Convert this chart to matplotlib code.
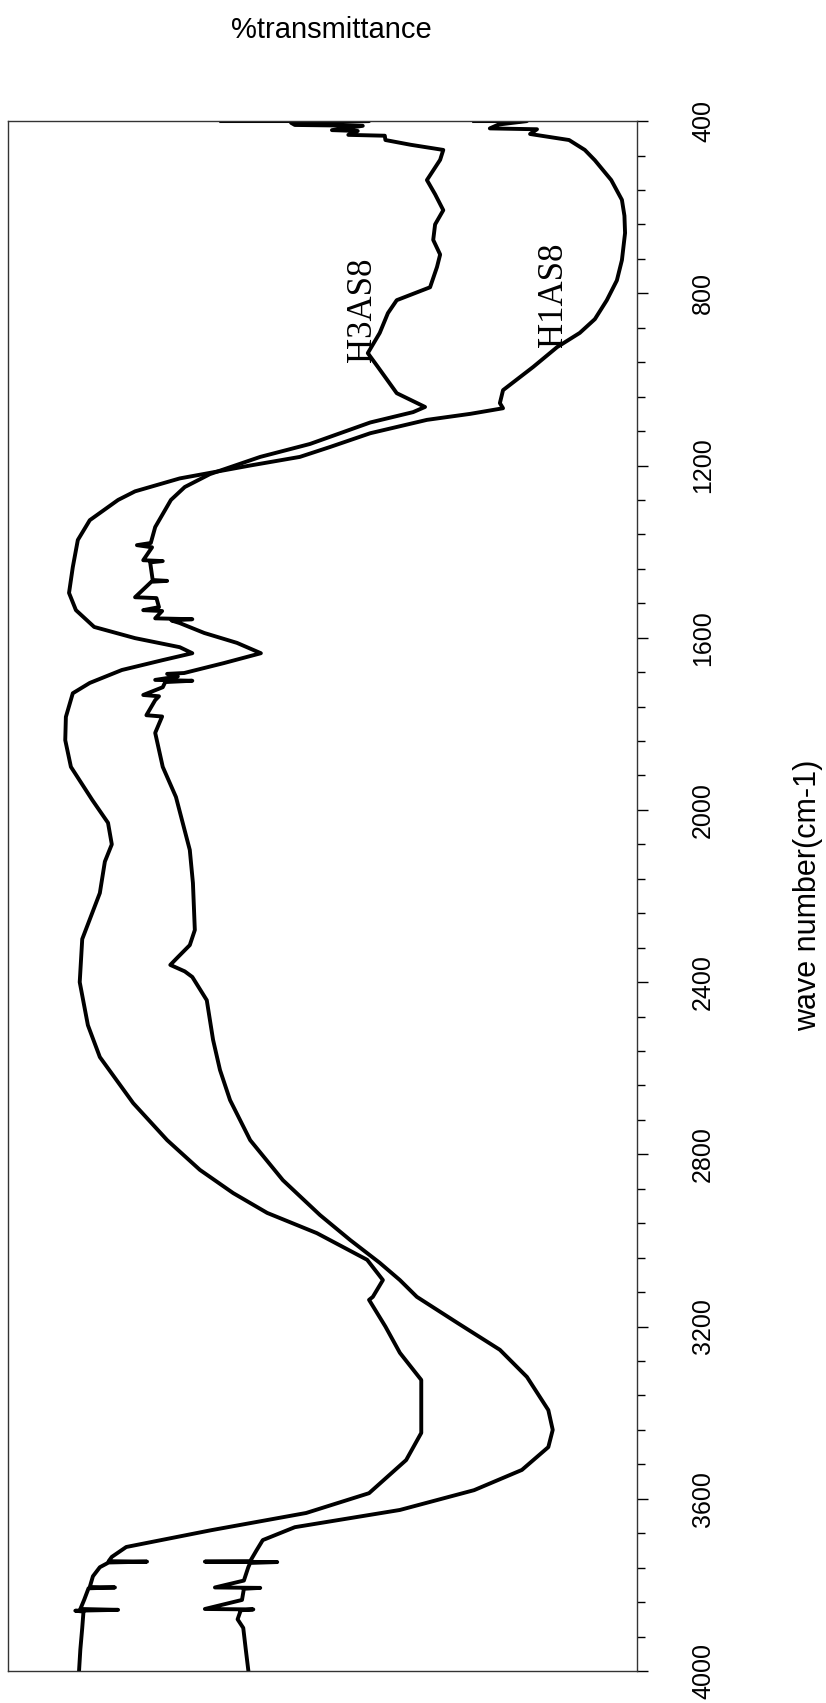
import matplotlib.pyplot as plt
from matplotlib.ticker import MultipleLocator

# wave numbers (cm-1) and %transmittance
h1_wn = [400, 400, 408, 417, 419, 430, 444, 467, 491, 537, 583, 620, 660, 723, 770,
         816, 860, 892, 925, 971, 1025, 1055, 1067, 1080, 1094, 1125, 1157, 1180, 1200,
         1230, 1260, 1280, 1327, 1373, 1436, 1496, 1536, 1575, 1601, 1622, 1636, 1652,
         1675, 1705, 1729, 1784, 1838, 1900, 1977, 2030, 2080, 2120, 2193, 2300, 2400,
         2500, 2574, 2681, 2767, 2836, 2890, 2936, 2983, 3045, 3092, 3131, 3138, 3200,
         3261, 3324, 3447, 3510, 3587, 3633, 3673, 3712, 3735, 3745, 3746, 3748, 3759,
         3780, 3805, 3806, 3808, 3835, 3856, 3858, 3860, 3862, 3900, 3950, 3998]
h1_t = [74.1, 82.5, 78.0, 76.6, 84.1, 83.0, 89.2, 91.7, 93.3, 95.9, 97.6, 98.0, 98.1, 97.6, 96.8,
        95.2, 93.3, 90.9, 87.3, 83.5, 78.7, 78.2, 78.7, 73.5, 66.6, 57.6, 51.2, 46.4, 38.5,
        27.3, 20.2, 17.5, 13.0, 11.1, 10.3, 9.7, 10.8, 13.7, 20.2, 27.3, 29.3, 24.6,
        18.1, 13.0, 10.3, 9.2, 9.1, 10.0, 13.4, 15.9, 16.5, 15.4, 14.6, 11.8, 11.4,
        12.7, 14.6, 19.9, 25.3, 30.5, 35.8, 41.2, 49.1, 57.1, 59.6, 58.0, 57.4, 60.0,
        62.3, 65.7, 65.7, 63.3, 57.4, 47.4, 32.3, 18.8, 16.5, 16.0, 22.1, 16.0, 14.6,
        13.5, 13.0, 17.0, 12.8, 12.1, 11.5, 17.5, 10.7, 12.0, 11.8, 11.5, 11.3]

h3_wn = [400, 400, 404, 409, 411, 421, 423, 432, 434, 444, 455, 467, 490, 537, 570,
         607, 640, 676, 710, 739, 786, 816, 846, 892, 939, 971, 1032, 1064, 1076, 1100,
         1125, 1150, 1180, 1220, 1250, 1280, 1343, 1380, 1385, 1390, 1420, 1422, 1425,
         1466, 1468, 1470, 1506, 1508, 1529, 1536, 1538, 1555, 1557, 1560, 1566, 1589,
         1612, 1636, 1659, 1682, 1684, 1690, 1698, 1700, 1703, 1715, 1733, 1736, 1745,
         1780, 1783, 1821, 1900, 1970, 2093, 2170, 2279, 2314, 2342, 2360, 2375, 2388,
         2442, 2534, 2604, 2674, 2767, 2860, 2941, 2999, 3052, 3092, 3131, 3192, 3254,
         3317, 3394, 3440, 3480, 3533, 3580, 3626, 3666, 3696, 3720, 3745, 3746, 3747,
         3749, 3759, 3790, 3806, 3807, 3809, 3835, 3856, 3857, 3859, 3880, 3900, 3950, 3998]
h3_t = [33.9, 57.4, 45.0, 45.6, 56.4, 51.5, 55.6, 54.1, 59.9, 60.0, 64.0, 69.2, 68.7, 66.6, 67.9,
        69.2, 67.9, 67.6, 68.7, 68.2, 67.1, 61.8, 60.4, 59.1, 57.2, 58.8, 61.8, 66.3, 64.4, 57.6,
        52.8, 48.0, 40.1, 32.1, 28.1, 25.9, 23.4, 22.7, 20.5, 22.9, 21.5, 24.6, 22.6,
        23.0, 25.3, 22.8, 20.2, 23.6, 24.0, 21.5, 24.5, 23.4, 29.3, 26.0, 27.3, 31.2,
        36.4, 40.2, 34.3, 28.0, 25.3, 27.0, 23.4, 29.3, 25.0, 24.6, 21.5, 24.0, 23.4,
        22.0, 24.5, 23.4, 24.6, 26.7, 28.9, 29.4, 29.7, 28.9, 27.0, 25.8, 28.1, 29.3,
        31.6, 32.6, 33.7, 35.3, 38.5, 43.7, 49.6, 54.4, 59.1, 62.3, 65.0, 71.5, 78.2,
        82.5, 85.9, 86.6, 85.9, 81.7, 74.1, 62.3, 45.6, 40.5, 39.5, 38.5, 31.3, 42.8,
        38.5, 38.2, 37.5, 32.9, 40.1, 37.5, 37.2, 31.3, 39.0, 37.0, 36.5, 37.4, 37.8, 38.2]

labels = ['H3AS8', 'H1AS8']
label_pos = [(56.3, 839), (86.8, 804)]

fig = plt.figure(figsize=(8.26, 17.03), dpi=100)
ax = fig.add_axes([0.0097, 0.0188, 0.7615, 0.9101])

ax.plot(h1_t, h1_wn, color='black', linewidth=2.8, solid_joinstyle='round')
ax.plot(h3_t, h3_wn, color='black', linewidth=2.8, solid_joinstyle='round')

for lab, (x, y) in zip(labels, label_pos):
    ax.text(x, y, lab, rotation=90, ha='center', va='center',
            family='Liberation Serif', fontsize=25)

ax.set_xlim(0, 100)
ax.set_ylim(4000, 400)
ax.set_xticks([])
ax.yaxis.tick_right()
ax.yaxis.set_major_locator(MultipleLocator(400))
ax.yaxis.set_minor_locator(MultipleLocator(80))
ax.tick_params(axis='y', which='major', length=8, width=1, direction='out', pad=31,
               labelsize=18, labelrotation=90)
ax.tick_params(axis='y', which='minor', length=6, width=1, direction='out')
for lbl in ax.get_yticklabels():
    lbl.set_family('Liberation Sans')
    lbl.set_va('center')
for sp in ax.spines.values():
    sp.set_linewidth(1.0)
    sp.set_color('#333333')

fig.text(432 / 826, 1 - 30 / 1703, '%transmittance', ha='right', va='center',
         fontsize=21, family='Liberation Sans')
fig.text(808 / 826, 1 - 895 / 1703, 'wave number(cm-1)', rotation=90, ha='center',
         va='center', fontsize=22, family='Liberation Sans')

fig.savefig('out.png', dpi=100)
